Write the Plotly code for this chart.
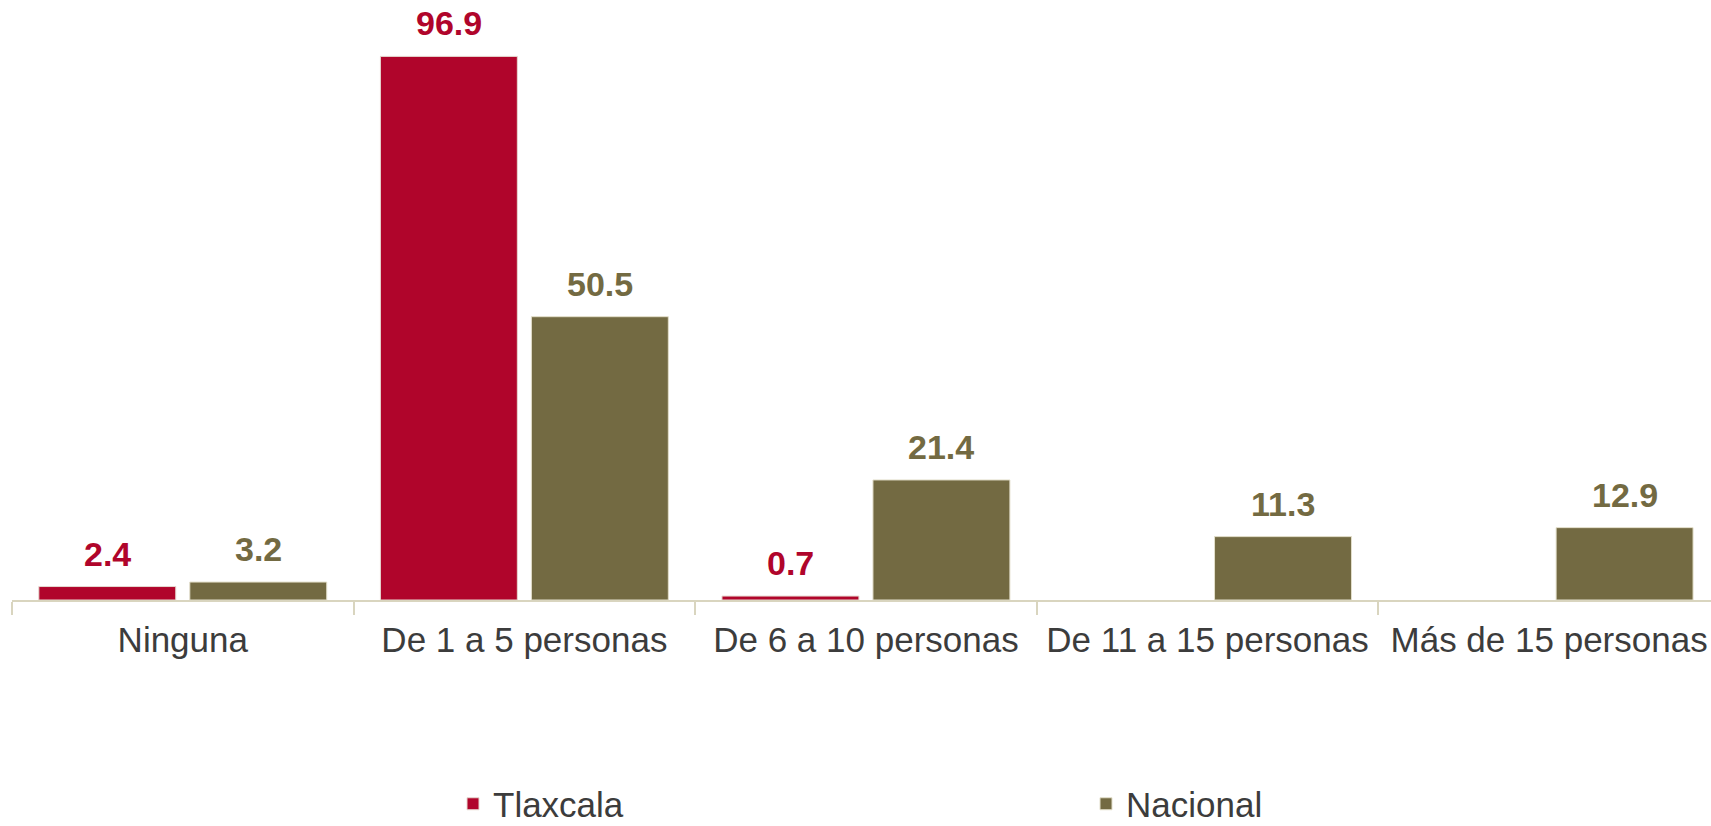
import plotly.graph_objects as go

# Tamaño de los establecimientos por número de personas ocupadas (%)
categorias = ["Ninguna", "De 1 a 5 personas", "De 6 a 10 personas",
              "De 11 a 15 personas", "Más de 15 personas"]
tlaxcala = [2.4, 96.9, 0.7, None, None]
nacional = [3.2, 50.5, 21.4, 11.3, 12.9]

ROJO = "#B0052B"
OLIVO = "#736A42"
EJE = "#D9D5BF"
TEXTO = "#3C3C3C"
FUENTE = "Liberation Sans, Arial, sans-serif"

W, H = 1711, 826
M_L, M_R, M_T, M_B = 12, 0, 0, 226
plot_w = W - M_L - M_R
x_rango = [-0.5, 4.474]
y_rango = [0, 106.95]
bargap = 0.116
bargroupgap = 0.093

fig = go.Figure()
fig.add_trace(go.Bar(name="Tlaxcala", x=categorias, y=tlaxcala,
                     marker=dict(color=ROJO, line=dict(color="#E6D9D0", width=1))))
fig.add_trace(go.Bar(name="Nacional", x=categorias, y=nacional,
                     marker=dict(color=OLIVO, line=dict(color="#E3DFCB", width=1))))

# etiquetas de valor sobre cada barra
px_por_cat = plot_w / (x_rango[1] - x_rango[0])
desplaz = (1 - bargap) * px_por_cat / 4
for serie, color, signo in ((tlaxcala, ROJO, -1), (nacional, OLIVO, 1)):
    for cat, v in zip(categorias, serie):
        if v is None:
            continue
        fig.add_annotation(x=cat, y=v, xref="x", yref="y", text=f"<b>{v:.1f}</b>",
                           showarrow=False, yanchor="bottom", yshift=12,
                           xshift=signo * desplaz,
                           font=dict(family=FUENTE, size=34, color=color))

fig.update_layout(
    width=W, height=H,
    margin=dict(l=M_L, r=M_R, t=M_T, b=M_B),
    paper_bgcolor="white", plot_bgcolor="white",
    barmode="group", bargap=bargap, bargroupgap=bargroupgap,
    font=dict(family=FUENTE, size=35, color=TEXTO),
    xaxis=dict(range=x_rango, showline=True, linecolor=EJE, linewidth=2,
               ticks="outside", tickson="boundaries", ticklen=13, tickwidth=2,
               tickcolor=EJE, showgrid=False, zeroline=False,
               ticklabelstandoff=8,
               tickfont=dict(family=FUENTE, size=35, color=TEXTO)),
    yaxis=dict(range=y_rango, visible=False, showgrid=False, zeroline=False),
    showlegend=True,
    legend=dict(orientation="h", xref="container", yref="container",
                x=453 / W, y=1 - 804 / H, xanchor="left", yanchor="middle",
                entrywidth=588, entrywidthmode="pixels",
                font=dict(family=FUENTE, size=35, color=TEXTO),
                bgcolor="rgba(0,0,0,0)"),
)

fig.write_html("out.html")
